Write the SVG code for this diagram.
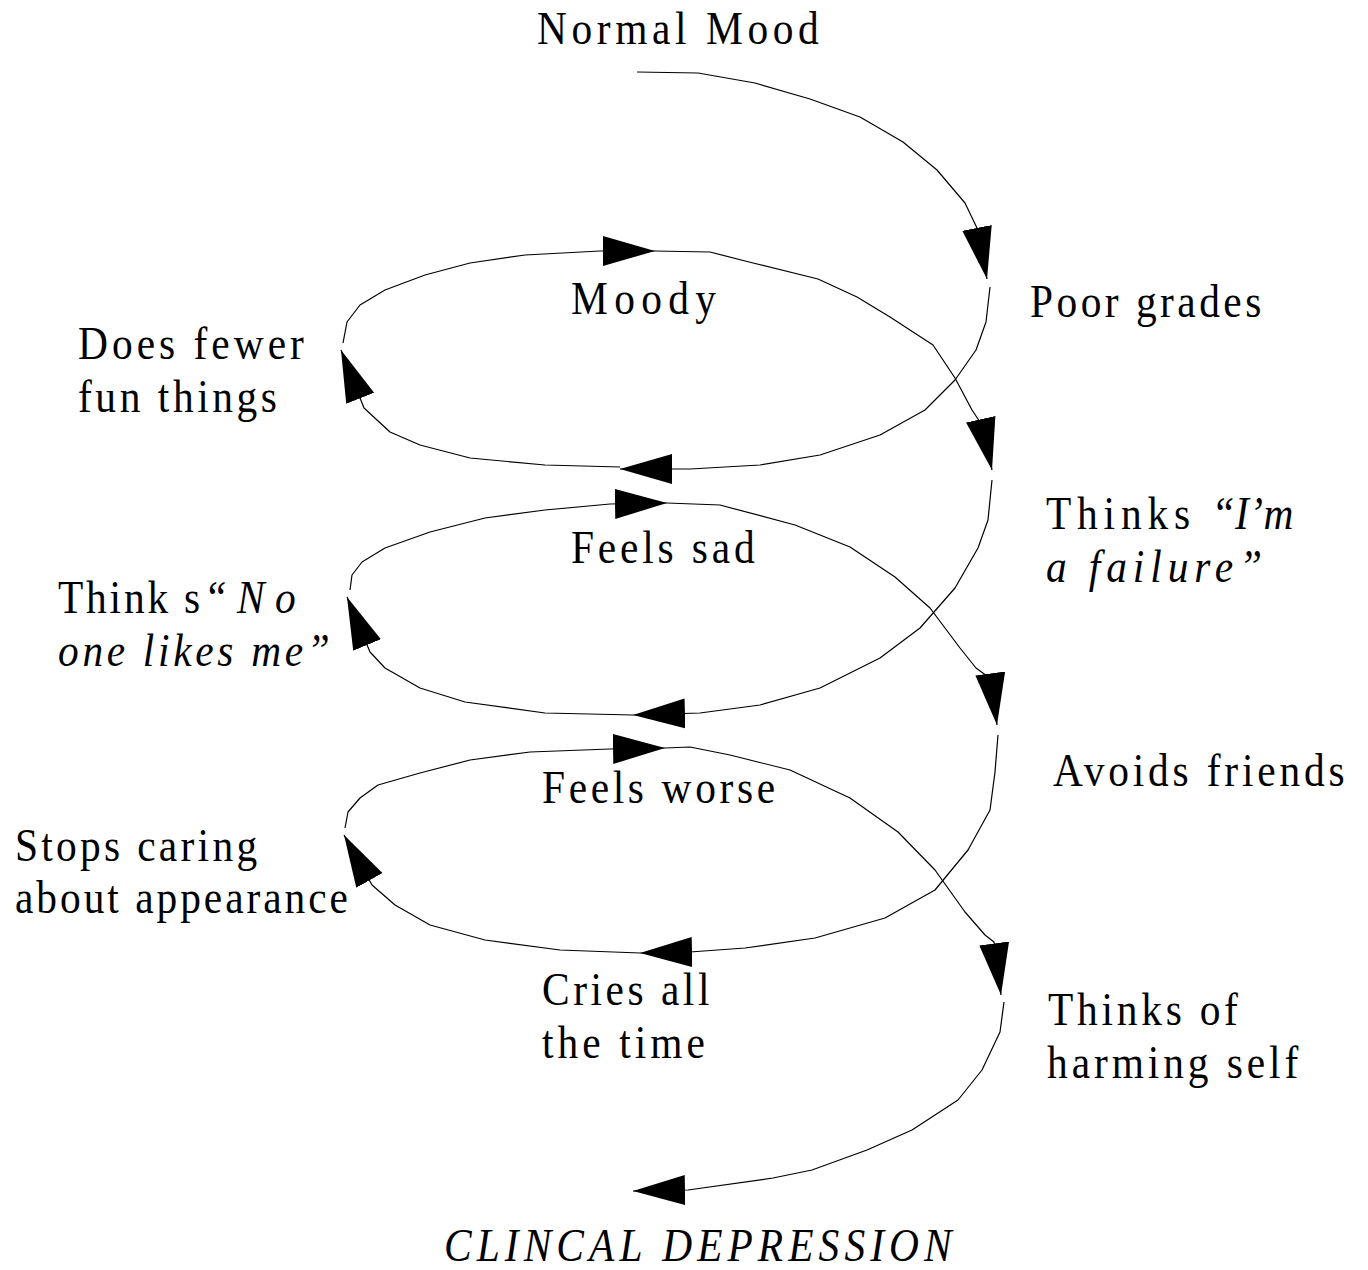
<svg xmlns="http://www.w3.org/2000/svg" width="1368" height="1270" viewBox="0 0 1368 1270">
  <style>
    .lbl { font-family: "Liberation Serif", "Times New Roman", serif; font-size: 46px; fill: #000; }
    .it { font-style: italic; }
    .wire { fill: none; stroke: #000; stroke-width: 1.2; stroke-linejoin: round; marker-end: url(#arr); }
  </style>
  <defs>
    <marker id="arr" markerUnits="userSpaceOnUse" markerWidth="54" markerHeight="32" refX="52" refY="16" orient="auto">
      <path d="M0,1 L52,16 L0,31 Z" fill="#000"/>
    </marker>
  </defs>
  <rect width="1368" height="1270" fill="#fff"/>

  <!-- spiral path, one piece per arrow -->
  <g id="connectors">
    <path class="wire" d="M637,72 L698,73 L755,83 L810,99 L860,117 L903,142 L937,170 L965,203 L977,228 L987,279"/>
    <path class="wire" d="M990,287 L986,322 L976,350 L955,380 L925,410 L880,435 L820,455 L760,465 L690,469 L620,469"/>
    <path class="wire" d="M620,467 L545,465 L470,458 L420,445 L390,432 L364,408 L341,350"/>
    <path class="wire" d="M343,343 L347,322 L360,305 L385,290 L425,275 L470,263 L525,255 L600,251 L655,251"/>
    <path class="wire" d="M655,251 L710,252 L753,263 L818,279 L857,297 L890,317 L933,345 L955,378 L972,410 L982,425 L992,470"/>
    <path class="wire" d="M992,480 L988,520 L978,548 L955,588 L920,628 L880,658 L820,688 L760,705 L700,713 L633,715"/>
    <path class="wire" d="M633,715 L545,713 L465,702 L420,688 L385,668 L370,652 L347,597"/>
    <path class="wire" d="M350,590 L352,575 L362,562 L385,548 L430,532 L485,518 L545,510 L610,504 L667,503"/>
    <path class="wire" d="M667,503 L720,505 L795,525 L850,547 L895,577 L930,608 L960,648 L976,668 L991,679 L997,725"/>
    <path class="wire" d="M998,735 L995,772 L990,810 L968,850 L935,890 L885,918 L815,938 L745,948 L690,952 L640,953"/>
    <path class="wire" d="M640,953 L560,950 L485,940 L430,925 L395,905 L372,885 L344,835"/>
    <path class="wire" d="M345,828 L348,812 L360,798 L378,785 L420,773 L470,760 L530,752 L610,749 L665,748"/>
    <path class="wire" d="M665,748 L690,747 L730,755 L790,770 L850,798 L898,832 L935,870 L965,912 L985,935 L994,942 L1001,995"/>
    <path class="wire" d="M1004,1002 L1000,1032 L982,1070 L958,1100 L912,1130 L867,1150 L812,1170 L773,1178 L688,1190 L633,1191"/>
  </g>

  <!-- labels: narrow serif, spaced out -->
  <g id="normal-mood" transform="translate(537 44) scale(0.9 1)"><text class="lbl" x="0" y="0" textLength="313">Normal Mood</text></g>
  <g id="poor-grades" transform="translate(1030 317) scale(0.9 1)"><text class="lbl" x="0" y="0" textLength="257">Poor grades</text></g>
  <g id="moody" transform="translate(571 314) scale(0.9 1)"><text class="lbl" x="0" y="0" textLength="161">Moody</text></g>
  <g id="fewer-fun" transform="translate(78 359) scale(0.9 1)">
    <text class="lbl"><tspan x="0" y="0" textLength="251">Does fewer</tspan><tspan x="0" y="53" textLength="221">fun things</tspan></text>
  </g>
  <g id="thinks-failure" transform="translate(1046 529) scale(0.9 1)">
    <text class="lbl"><tspan x="0" y="0" textLength="160">Thinks</tspan><tspan class="it" x="184" y="0" textLength="91">“I’m</tspan><tspan class="it" x="0" y="53" textLength="240">a failure”</tspan></text>
  </g>
  <g id="feels-sad" transform="translate(571 563) scale(0.9 1)"><text class="lbl" x="0" y="0" textLength="204">Feels sad</text></g>
  <g id="no-one-likes-me" transform="translate(58 613) scale(0.9 1)">
    <text class="lbl"><tspan x="0" y="0" textLength="158">Think s</tspan><tspan class="it" x="162" y="0" textLength="102">“No</tspan><tspan class="it" x="0" y="53" textLength="302">one likes me”</tspan></text>
  </g>
  <g id="avoids-friends" transform="translate(1053 786) scale(0.9 1)"><text class="lbl" x="0" y="0" textLength="324">Avoids friends</text></g>
  <g id="feels-worse" transform="translate(542 803) scale(0.9 1)"><text class="lbl" x="0" y="0" textLength="259">Feels worse</text></g>
  <g id="stops-caring" transform="translate(15 861) scale(0.9 1)">
    <text class="lbl"><tspan x="0" y="0" textLength="269">Stops caring</tspan><tspan x="0" y="52" textLength="370">about appearance</tspan></text>
  </g>
  <g id="cries" transform="translate(542 1005) scale(0.9 1)">
    <text class="lbl"><tspan x="0" y="0" textLength="186">Cries all</tspan><tspan x="0" y="53" textLength="181">the time</tspan></text>
  </g>
  <g id="harming-self" transform="translate(1048 1025) scale(0.9 1)">
    <text class="lbl"><tspan x="0" y="0" textLength="211">Thinks of</tspan><tspan x="-1" y="53" textLength="279">harming self</tspan></text>
  </g>
  <g id="clinical-depression" transform="translate(444 1261) scale(0.9 1)"><text class="lbl it" x="0" y="0" textLength="564">CLINCAL DEPRESSION</text></g>
</svg>
